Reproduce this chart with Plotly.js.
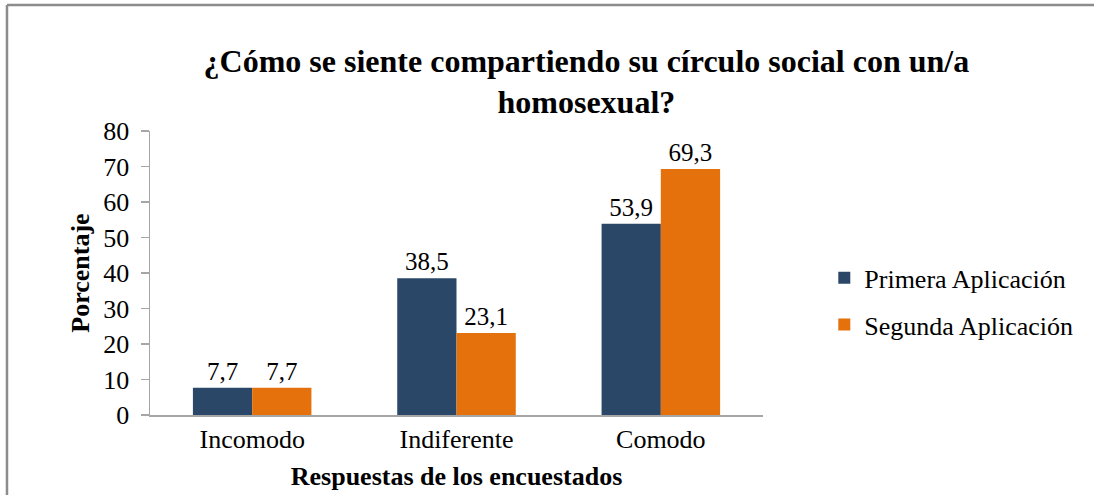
<!DOCTYPE html>
<html>
<head>
<meta charset="utf-8">
<script src="https://cdn.plot.ly/plotly-3.0.1.min.js"></script>
<style>
html,body{margin:0;padding:0;background:#fff;}
#chart{width:1094px;height:495px;}
</style>
</head>
<body>
<div id="chart"></div>
<script>
const categories = ["Incomodo", "Indiferente", "Comodo"];
const primera = [7.7, 38.5, 53.9];
const segunda = [7.7, 23.1, 69.3];
const seriesNames = ["Primera Aplicación", "Segunda Aplicación"];
const yTicks = [0, 10, 20, 30, 40, 50, 60, 70, 80];

const F = "'Liberation Serif', 'Times New Roman', serif";

const traces = [
  {type: 'bar', name: seriesNames[0], x: categories, y: primera, marker: {color: '#2B4768'},
   texttemplate: '%{y:.1f}', textposition: 'outside', cliponaxis: false,
   textfont: {family: F, size: 25, color: '#000'}, legendgroup: 'a', hoverinfo: 'none'},
  {type: 'bar', name: seriesNames[1], x: categories, y: segunda, marker: {color: '#E4710C'},
   texttemplate: '%{y:.1f}', textposition: 'outside', cliponaxis: false,
   textfont: {family: F, size: 25, color: '#000'}, legendgroup: 'b', hoverinfo: 'none'}
];

const layout = {
  width: 1094, height: 495,
  margin: {l: 150, r: 331, t: 131, b: 80},
  paper_bgcolor: '#fff', plot_bgcolor: '#fff',
  separators: ', ',
  font: {family: F, size: 25, color: '#000'},
  title: {text: '<b>¿Cómo se siente compartiendo su círculo social con un/a<br>homosexual?</b>',
          font: {family: F, size: 32, color: '#000'}, x: 0.536, xanchor: 'center',
          yref: 'container', y: 0.855, yanchor: 'top'},
  barmode: 'group', bargap: 0.42, bargroupgap: 0,
  xaxis: {showline: true, linecolor: '#a6a6a6', linewidth: 1.5, ticks: '', showgrid: false,
          tickfont: {family: F, size: 26}, fixedrange: true,
          title: {text: '<b>Respuestas de los encuestados</b>', font: {family: F, size: 26}, standoff: 14}},
  yaxis: {range: [0, 80], tickvals: yTicks, showline: true, linecolor: '#a6a6a6', linewidth: 1.5,
          ticks: 'outside', ticklen: 8, tickcolor: '#a6a6a6', tickwidth: 1.5, showgrid: false, zeroline: false,
          tickfont: {family: F, size: 26}, ticklabelstandoff: 6, fixedrange: true,
          title: {text: '<b>Porcentaje</b>', font: {family: F, size: 26}, standoff: 6}},
  legend: {x: 1.1, y: 0.40, xanchor: 'left', yanchor: 'middle', font: {family: F, size: 26},
           traceorder: 'grouped', tracegroupgap: 10, itemwidth: 30},
  showlegend: true,
  shapes: [
    {type: 'line', xref: 'paper', yref: 'paper', x0: -0.2333, x1: 1.7, y0: 1.4437, y1: 1.4437,
     line: {color: '#8c8c8c', width: 2.5}},
    {type: 'line', xref: 'paper', yref: 'paper', x0: -0.2333, x1: -0.2333, y0: 1.4437, y1: -0.4,
     line: {color: '#8c8c8c', width: 2.5}}
  ]
};

Plotly.newPlot('chart', traces, layout, {displayModeBar: false, staticPlot: true});
</script>
</body>
</html>
